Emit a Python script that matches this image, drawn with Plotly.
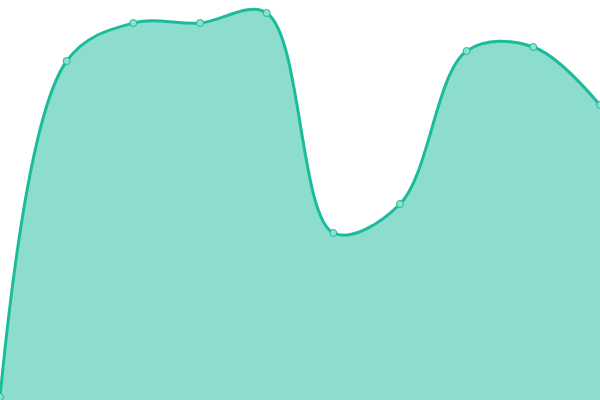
import plotly.graph_objects as go

# values (pixel height from the bottom of a 400px plot)
X_VALUES = [0, 1, 2, 3, 4, 5, 6, 7, 8, 9]
Y_VALUES = [3, 339, 377, 377, 387, 167, 196, 349, 353, 295]

LINE_COLOR = "#1abc9c"
FILL_COLOR = "rgba(26,188,156,0.5)"

fig = go.Figure()
fig.add_trace(go.Scatter(
    x=X_VALUES, y=Y_VALUES,
    mode="lines+markers",
    fill="tozeroy", fillcolor=FILL_COLOR,
    line=dict(color=LINE_COLOR, width=3, shape="spline", smoothing=1),
    marker=dict(size=7, color="#8ce0cf", line=dict(color=LINE_COLOR, width=1)),
    hoverinfo="skip",
))
fig.update_layout(
    width=600, height=400,
    margin=dict(l=0, r=0, t=0, b=0),
    paper_bgcolor="white", plot_bgcolor="white",
    showlegend=False,
    xaxis=dict(range=[0, 9], visible=False, fixedrange=True),
    yaxis=dict(range=[0, 400], visible=False, fixedrange=True),
)
# page has a default 8px body margin; drop it so the chart fills the window
fig.write_html("out.html", config={"displayModeBar": False},
               post_script="document.body.style.margin='0';document.body.style.overflow='hidden';")
